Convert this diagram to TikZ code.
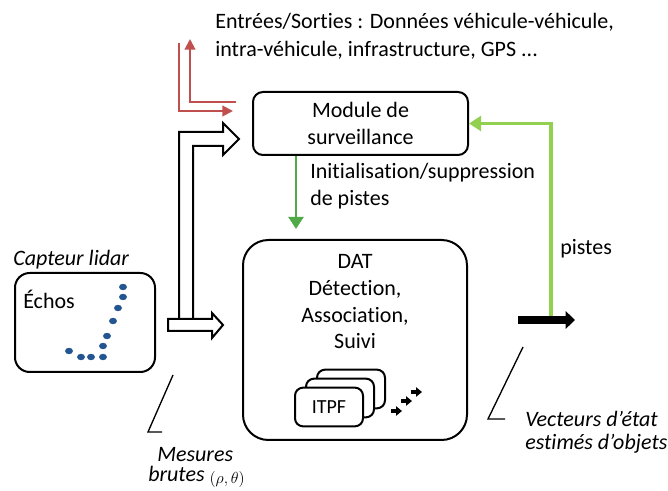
\documentclass[tikz,border=0pt]{standalone}
\usepackage{fontspec}
\setmainfont{Carlito}[Ligatures={NoCommon}]
\usetikzlibrary{arrows.meta}
\definecolor{redA}{RGB}{192,80,77}
\definecolor{greenD}{RGB}{80,170,72}
\definecolor{greenL}{RGB}{146,208,80}
\definecolor{dotblue}{RGB}{35,85,145}
\begin{document}
\begin{tikzpicture}[x=0.75pt,y=-0.75pt,
  font=\fontsize{16.5}{20}\selectfont,
  box/.style={draw, line width=1.5pt, rounded corners=7.5pt, fill=white, inner sep=0pt},
  txt/.style={inner sep=0pt, align=left},
  redline/.style={draw=redA, line width=1.5pt},
  hollow/.style={draw, line width=1.5pt, fill=white, line join=miter},
  callout/.style={draw, line width=1pt},
  dot/.style={fill=dotblue}]
\useasboundingbox (0,0) rectangle (668,491);

% top text
\node[txt, anchor=north west, font=\fontsize{16.5}{21}\selectfont] (io) at (215,13)
  {Entrées/Sorties : Données véhicule-véhicule,\\intra-véhicule, infrastructure, GPS ...};

% red arrows
\coordinate (r1a) at (179,43);
\coordinate (r1b) at (233,111);
\coordinate (r2a) at (236,102);
\coordinate (r2b) at (190,39);
\draw[redline, -{Triangle[length=8pt,width=8pt]}] (r1a) |- (r1b);
\draw[redline, -{Triangle[length=8pt,width=8pt]}] (r2a) -| (r2b);

% module
\node[box, minimum width=161.25pt, minimum height=47.25pt, align=center] (module) at (360.5,123.5)
  {Module de\\surveillance};

% hollow arrows
\draw[hollow] (179,319) -- (179,132) -- (223,132) -- (223,123) -- (239,139) -- (223,155) -- (223,146) -- (193,146) -- (193,319);
\draw[hollow] (168,319) -- (212,319) -- (212,313) -- (223,325) -- (212,338) -- (212,331) -- (168,331) -- cycle;

% lidar
\node[box, rounded corners=11pt, minimum width=105pt, minimum height=74.25pt] (lidar) at (85,322.5) {};
\node[txt, anchor=base west, font=\fontsize{16.5}{20}\itshape] (capteur) at (13,266) {Capteur lidar};
\node[txt, anchor=base west] (echos) at (23,309) {Échos};
\foreach \p in {(123,287),(123,297),(118,308),(113,321),(107,336),(103,346),(103,357),(91,357),(81,357),(69,351)}
  \fill[dot] \p ellipse (3pt and 2.4pt);

% DAT
\node[box, rounded corners=19pt, minimum width=168pt, minimum height=150pt] (dat) at (355,340) {};
\node[align=center, inner sep=0pt] (dattext) at (355,302) {DAT\\Détection,\\Association,\\Suivi};
\node[box, rounded corners=6pt, minimum width=51pt, minimum height=29pt] (itpf3) at (351,389) {};
\node[box, rounded corners=6pt, minimum width=51pt, minimum height=29pt] (itpf2) at (340,398) {};
\node[box, rounded corners=6pt, minimum width=51pt, minimum height=29pt, font=\fontsize{15}{17}\selectfont] (itpf1) at (329,407) {ITPF};
\foreach \x/\y in {391/411, 401/401, 411/392}
  \draw[line width=2.5pt, -{Triangle[length=4.5pt,width=7pt]}] (\x,\y) -- ++(11,0);

% green arrows
\coordinate (gd) at (296,229);
\draw[greenD, line width=2.2pt, -{Triangle[length=9pt,width=11pt]}] (module.south -| gd) -- (gd);
\node[txt, anchor=north west] (init) at (310,163) {Initialisation/suppression\\de pistes};

\coordinate (ps) at (551,320);
\draw[greenL, line width=2.5pt, -{Triangle[length=9pt,width=11pt]}] (ps) |- (module.east);
\node[txt, anchor=base west] (pistes) at (560,255) {pistes};

% output arrow
\coordinate (oa) at (518,320);
\coordinate (ob) at (575,320);
\draw[line width=6pt, -{Triangle[length=7pt,width=13pt]}] (oa) -- (ob);

% callouts
\coordinate (m1) at (173,375);
\coordinate (m2) at (148,432);
\coordinate (m3) at (162,432);
\draw[callout] (m1) -- (m2) -- (m3);
\node[txt, anchor=base west, font=\fontsize{16.5}{20}\itshape] (mes1) at (157,462) {Mesures};
\node[txt, anchor=base west, font=\fontsize{16.5}{20}\itshape] (mes2) at (148,482) {brutes \raisebox{-1.5pt}{\fontsize{12}{14}\selectfont$(\rho,\theta)$}};

\coordinate (v1) at (523,347);
\coordinate (v2) at (488,419);
\coordinate (v3) at (505,419);
\draw[callout] (v1) -- (v2) -- (v3);
\node[txt, anchor=base west, font=\fontsize{16.5}{20}\itshape] (vec1) at (525,427) {Vecteurs d’état};
\node[txt, anchor=base west, font=\fontsize{16.5}{20}\itshape] (vec2) at (525,450) {estimés d’objets};
\end{tikzpicture}
\end{document}
